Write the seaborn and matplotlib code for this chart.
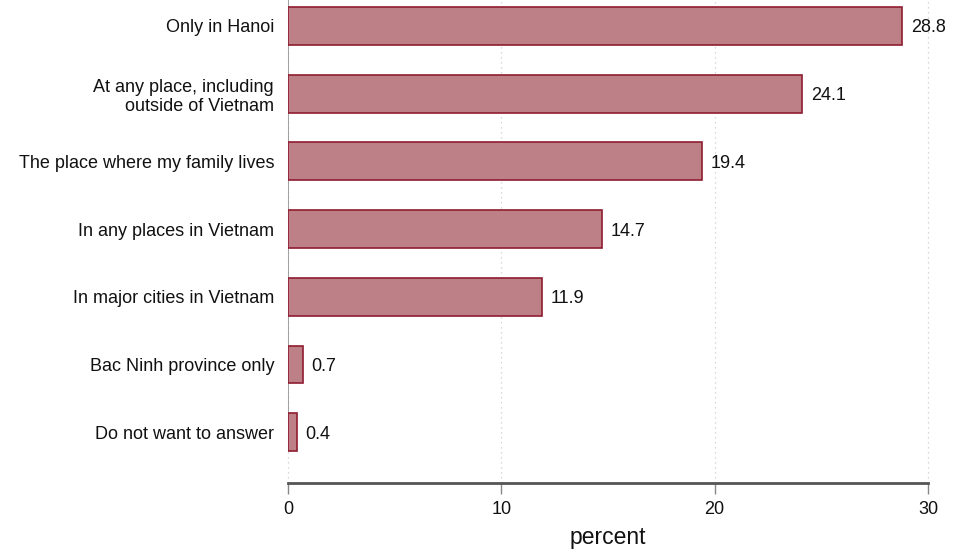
import matplotlib
matplotlib.use('Agg')
import matplotlib.pyplot as plt
import seaborn as sns
import pandas as pd

# answers and shares
places = ['Only in Hanoi',
          'At any place, including\noutside of Vietnam',
          'The place where my family lives',
          'In any places in Vietnam',
          'In major cities in Vietnam',
          'Bac Ninh province only',
          'Do not want to answer']
percent = [28.8, 24.1, 19.4, 14.7, 11.9, 0.7, 0.4]

df = pd.DataFrame({'place': places, 'percent': percent})

sns.set_style('white')
plt.rcParams['font.family'] = ['Liberation Sans', 'DejaVu Sans']

fig = plt.figure(figsize=(9.59, 5.5), dpi=100)
ax = fig.add_axes([288 / 959, (550 - 483) / 550, 640 / 959, 483 / 550])

sns.barplot(data=df, x='percent', y='place', orient='h', width=0.56,
            color='#be8087', saturation=1, edgecolor='#8f1c30', linewidth=1.2,
            ax=ax, zorder=3)

ax.set_xlim(0, 30)
ax.set_ylim(6.75, -0.384)
ax.set_xticks([0, 10, 20, 30])
for x in [0, 10, 20, 30]:
    ax.axvline(x, color='#cccccc', linestyle=(0, (1, 3)), linewidth=0.9,
               zorder=1, clip_on=False)
# solid base line behind the bars
ax.vlines(0, -0.384, 6.28, color='#999999', linewidth=1.3, zorder=2)

for sp in ['top', 'right', 'left']:
    ax.spines[sp].set_visible(False)
ax.spines['bottom'].set_color('#555555')
ax.spines['bottom'].set_linewidth(2)
ax.spines['bottom'].set_zorder(4)

ax.tick_params(axis='x', bottom=True, length=8, width=1, color='#888888',
               labelsize=13, labelcolor='#111111', pad=5)
ax.tick_params(axis='y', left=False, length=0, labelsize=13,
               labelcolor='#111111', pad=10)
ax.set_ylabel('')
ax.set_xlabel('percent', fontsize=16.5, color='#111111', labelpad=6)

for bar, val in zip(ax.patches, percent):
    ax.text(bar.get_width() + 0.4, bar.get_y() + bar.get_height() / 2,
            f'{val:.1f}', va='center_baseline', ha='left', fontsize=13,
            color='#111111', clip_on=False)

fig.savefig('out.png', dpi=100)
